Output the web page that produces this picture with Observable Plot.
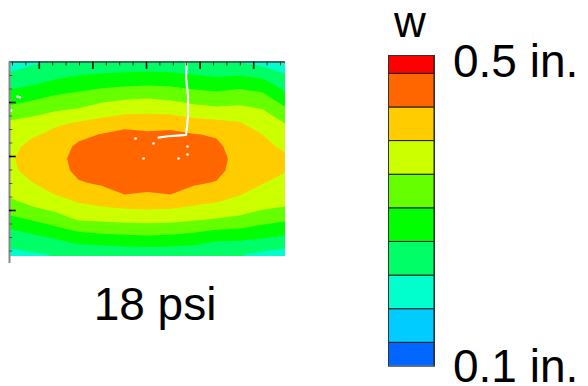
<!DOCTYPE html>
<html><head><meta charset="utf-8">
<script src="https://cdn.jsdelivr.net/npm/d3@7"></script>
<script src="https://cdn.jsdelivr.net/npm/@observablehq/plot@0.6"></script>
<style>
body{margin:0;background:#fff;}
#wrap{position:relative;width:588px;height:386px;overflow:hidden;font-family:"Liberation Sans",Arial,Helvetica,sans-serif;}
#wrap svg{position:absolute;overflow:visible;}
.lbl{position:absolute;font-size:46px;line-height:38px;color:#000;white-space:nowrap;}
</style></head><body>
<div id="wrap"></div>
<script>
// contour levels (lower edge of each band, in inches) and colours
const levels = [0.10, 0.14, 0.18, 0.22, 0.26, 0.30, 0.34, 0.38, 0.42, 0.46];
const bandColors = ["#0066ff","#00ccff","#00ffcc","#00ff66","#00ff00","#66ff00","#ccff00","#ffcc00","#ff6600","#ff0000"];
const legendTop = "0.5 in.";
const legendBottom = "0.1 in.";
const legendTitle = "w";
const caption = "18 psi";

// sample grid positions (plot units) and deflection w
const colX = [-0.22, 1.49, 3.21, 4.93, 6.64, 8.36, 10.07, 11.79, 13.51, 15.22, 16.94, 18.66, 20.37];
const rowY = [0.04, 0.93, 1.81, 2.70, 3.59, 4.48, 5.37, 6.26, 7.15, 8.04, 8.93, 9.81, 10.70, 11.59, 12.48, 13.37, 14.26];
const wGrid = [
  [0.201,0.215,0.224,0.228,0.231,0.233,0.234,0.233,0.228,0.225,0.222,0.207,0.198],
  [0.226,0.237,0.248,0.258,0.263,0.266,0.269,0.266,0.260,0.253,0.257,0.247,0.222],
  [0.252,0.263,0.279,0.288,0.295,0.300,0.303,0.300,0.292,0.287,0.294,0.285,0.246],
  [0.281,0.295,0.309,0.316,0.329,0.337,0.340,0.334,0.324,0.318,0.324,0.316,0.277],
  [0.315,0.327,0.338,0.346,0.361,0.369,0.372,0.369,0.358,0.351,0.353,0.343,0.311],
  [0.345,0.353,0.374,0.382,0.393,0.405,0.401,0.403,0.393,0.389,0.382,0.362,0.338],
  [0.358,0.375,0.389,0.409,0.422,0.432,0.427,0.430,0.422,0.416,0.393,0.380,0.356],
  [0.368,0.392,0.399,0.428,0.436,0.445,0.445,0.445,0.436,0.428,0.401,0.388,0.374],
  [0.373,0.402,0.405,0.435,0.445,0.450,0.452,0.450,0.445,0.435,0.405,0.392,0.385],
  [0.370,0.396,0.403,0.430,0.442,0.448,0.450,0.448,0.442,0.431,0.403,0.390,0.382],
  [0.361,0.380,0.394,0.417,0.426,0.440,0.440,0.439,0.426,0.418,0.395,0.382,0.369],
  [0.346,0.360,0.381,0.396,0.404,0.420,0.415,0.420,0.403,0.396,0.382,0.366,0.355],
  [0.324,0.340,0.354,0.373,0.380,0.386,0.388,0.386,0.378,0.372,0.360,0.348,0.340],
  [0.291,0.306,0.323,0.347,0.350,0.353,0.355,0.353,0.348,0.340,0.333,0.318,0.308],
  [0.256,0.269,0.287,0.304,0.311,0.315,0.317,0.315,0.307,0.297,0.293,0.283,0.274],
  [0.232,0.240,0.249,0.266,0.270,0.273,0.275,0.273,0.269,0.257,0.254,0.248,0.238],
  [0.208,0.216,0.222,0.227,0.230,0.233,0.234,0.233,0.230,0.223,0.223,0.211,0.202]
];

// missing-data artefacts (white)
const gapLine = [
  {x:13.00,y:0.00},{x:12.95,y:1.20},{x:13.10,y:2.50},{x:13.10,y:4.00},
  {x:13.00,y:5.00},{x:12.95,y:5.40},{x:12.30,y:5.45},{x:11.60,y:5.50},{x:10.90,y:5.60}
];
const gapDots = [
  {x:10.52,y:6.04},{x:13.06,y:6.26},{x:13.06,y:6.85},{x:12.39,y:7.15},
  {x:9.18,y:5.67},{x:9.78,y:7.15},{x:0.37,y:2.56},{x:0.55,y:2.62},{x:-0.1,y:3.6}
];

// axis tick positions (unlabelled)
const xMinor = [0,1,3,4,5,7,8,9,11,12,13,15,16,17,19,20];
const xMajor = [2,6,10,14,18];
const yMinor = [1,2,4,5,6,8,9,10,12,13,14];
const yMajor = [3,7,11];

const xDomain = [-0.224, 20.373];
const yDomain = [0, 14.4];
const colorScale = {type: "threshold", domain: levels.slice(1), range: bandColors};

const dx = colX[1] - colX[0], dy = rowY[1] - rowY[0];

const main = Plot.plot({
  width: 588, height: 386,
  marginLeft: 9, marginRight: 303, marginTop: 61.5, marginBottom: 130.1,
  x: {domain: xDomain, axis: null},
  y: {domain: yDomain, reverse: true, axis: null},
  color: colorScale,
  marks: [
    Plot.contour(wGrid.flat(), {
      width: colX.length, height: rowY.length,
      x1: colX[0] - dx/2, x2: colX[colX.length-1] + dx/2,
      y1: rowY[0] - dy/2, y2: rowY[rowY.length-1] + dy/2,
      fill: Plot.identity, thresholds: levels, stroke: "none", clip: true
    }),
    Plot.line(gapLine, {x: "x", y: "y", stroke: "white", strokeWidth: 2.2, clip: true}),
    Plot.dot(gapDots, {x: "x", y: "y", r: 1.3, fill: "white", stroke: "none", clip: true}),
    Plot.ruleY([yDomain[0]], {stroke: "#444", strokeWidth: 1.6}),
    Plot.ruleX(xMinor, {y1: 0, y2: 0.3, stroke: "#333", strokeWidth: 1}),
    Plot.ruleX(xMajor, {y1: 0, y2: 0.55, stroke: "#111", strokeWidth: 1.6}),
    Plot.ruleX([xDomain[0]], {y1: 0, y2: 14.93, stroke: "#888", strokeWidth: 2}),
    Plot.ruleY(yMinor, {x1: xDomain[0], x2: xDomain[0] + 0.25, stroke: "#555", strokeWidth: 1}),
    Plot.ruleY(yMajor, {x1: xDomain[0], x2: xDomain[0] + 0.5, stroke: "#000", strokeWidth: 1.6})
  ]
});
main.style.left = "0px"; main.style.top = "0px";

const legend = Plot.plot({
  width: 48, height: 313,
  marginLeft: 1, marginRight: 1, marginTop: 1, marginBottom: 1.3,
  x: {axis: null},
  y: {domain: [0.1122, 0.4818], axis: null},
  color: colorScale,
  marks: [
    Plot.rect(levels, {y1: d => d, y2: d => d + 0.04, fill: d => d, stroke: "#1a1a1a", strokeWidth: 1, clip: true}),
    Plot.frame({stroke: "#333", strokeWidth: 1})
  ]
});
legend.style.left = "387px"; legend.style.top = "54px";

const wrap = document.getElementById("wrap");
wrap.appendChild(main);
wrap.appendChild(legend);

function addLabel(text, css) {
  const d = document.createElement("div");
  d.className = "lbl";
  d.textContent = text;
  Object.assign(d.style, css);
  wrap.appendChild(d);
}
// line-height 38px: baseline sits ~35px below the box top
addLabel(legendTitle, {left: "380px", width: "60px", textAlign: "center", top: "2px", fontSize: "44px", lineHeight: "40px"});
addLabel(legendTop, {left: "453px", top: "42px"});
addLabel(legendBottom, {left: "453px", top: "346.5px"});
addLabel(caption, {left: "55px", width: "200px", textAlign: "center", top: "285px"});
</script>
</body></html>
